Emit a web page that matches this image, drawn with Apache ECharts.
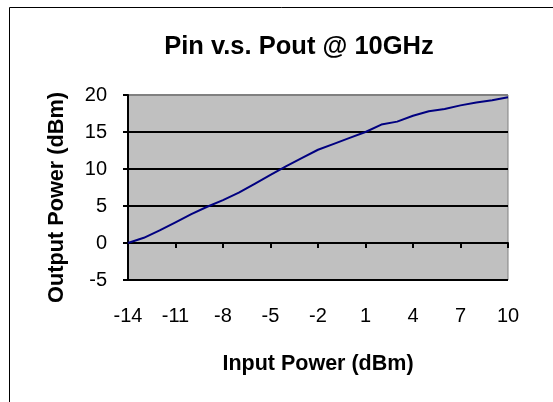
<!DOCTYPE html>
<html>
<head>
<meta charset="utf-8">
<script src="https://cdn.jsdelivr.net/npm/echarts@6/dist/echarts.min.js"></script>
<style>
html,body{margin:0;padding:0;background:#fff;}
#chart{width:553px;height:402px;}
</style>
</head>
<body>
<div id="chart"></div>
<script>
// input power (dBm) and measured output power (dBm)
var pin = ['-14','-13','-12','-11','-10','-9','-8','-7','-6','-5','-4','-3','-2','-1','0','1','2','3','4','5','6','7','8','9','10'];
var pout = [0, 0.7, 1.7, 2.8, 3.9, 4.9, 5.8, 6.8, 8.0, 9.2, 10.4, 11.5, 12.6, 13.4, 14.2, 15.0, 16.0, 16.4, 17.2, 17.8, 18.1, 18.6, 19.0, 19.3, 19.7];
var yTicks = [-5, 0, 5, 10, 15, 20];

var chart = echarts.init(document.getElementById('chart'));
var font = 'Liberation Sans, Arial, sans-serif';
var option = {
    animation: false,
    backgroundColor: '#fff',
    title: {
        text: 'Pin v.s. Pout @ 10GHz',
        left: 294,
        textAlign: 'center',
        top: 29,
        textStyle: {fontFamily: font, fontSize: 25.5, fontWeight: 'bold', color: '#000'}
    },
    graphic: [{
        type: 'rect',
        shape: {x: 9.5, y: 7.5, width: 600, height: 500},
        style: {fill: 'none', stroke: '#000', lineWidth: 1}
    }, {
        // y axis title, sits a bit below the plot centre as in the original
        type: 'text',
        x: 57.5, y: 197.5,
        rotation: Math.PI / 2,
        style: {
            text: 'Output Power (dBm)',
            font: 'bold 21.7px ' + font,
            fill: '#000',
            textAlign: 'center',
            textVerticalAlign: 'middle'
        }
    }],
    grid: {
        left: 128, right: 45, top: 95, bottom: 122,
        show: true, backgroundColor: '#c0c0c0', borderColor: '#808080', borderWidth: 1
    },
    xAxis: {
        type: 'category',
        data: pin,
        boundaryGap: false,
        name: 'Input Power (dBm)',
        nameLocation: 'middle',
        nameGap: 73,
        nameTextStyle: {fontFamily: font, fontSize: 21.5, fontWeight: 'bold', color: '#000'},
        axisLine: {lineStyle: {color: '#000', width: 2}},
        axisTick: {interval: 2, length: 5, lineStyle: {color: '#000', width: 2}},
        axisLabel: {interval: 2, margin: 26, fontFamily: font, fontSize: 20, color: '#000'},
        splitLine: {show: false}
    },
    yAxis: {
        type: 'value',
        min: yTicks[0],
        max: yTicks[yTicks.length - 1],
        interval: 5,
        axisLine: {show: true, lineStyle: {color: '#000', width: 2}},
        axisTick: {show: true, length: 5, lineStyle: {color: '#000', width: 2}},
        axisLabel: {margin: 21, fontFamily: font, fontSize: 20, color: '#000'},
        splitLine: {lineStyle: {color: ['#000', '#000', '#000', '#000', '#000', '#808080'], width: 2}}
    },
    series: [{
        type: 'line',
        data: pout,
        showSymbol: false,
        lineStyle: {color: '#000080', width: 2}
    }]
};
chart.setOption(option);
</script>
</body>
</html>
